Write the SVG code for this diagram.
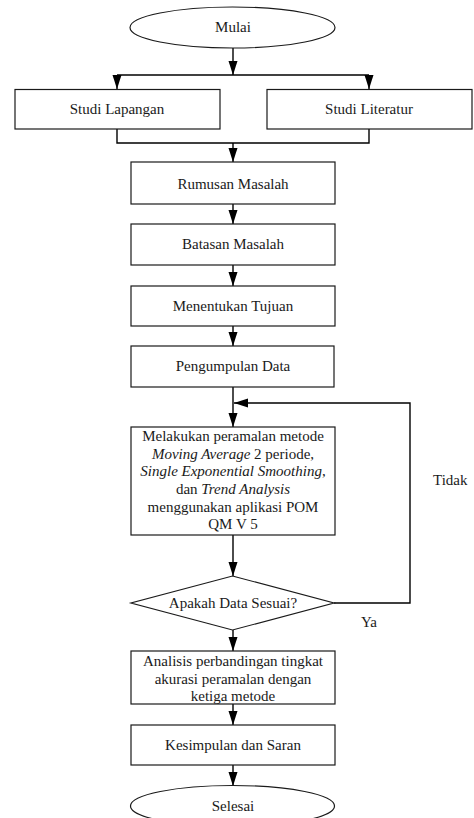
<svg xmlns="http://www.w3.org/2000/svg" width="474" height="818" viewBox="0 0 474 818">
<style>
.s{fill:#fff;stroke:#1a1a1a;stroke-width:1.2}
.c{fill:none;stroke:#000;stroke-width:1.4}
.t{font-family:"Liberation Serif","Times New Roman",serif;font-size:15px;fill:#1a1a1a;text-anchor:middle}
.l{font-family:"Liberation Serif","Times New Roman",serif;font-size:15px;fill:#1a1a1a}
.i{font-style:italic}
</style>
<defs>
<marker id="a" markerUnits="userSpaceOnUse" markerWidth="14" markerHeight="10" viewBox="0 0 14 10" refX="14" refY="5" orient="auto">
<path d="M0,0.5 L14,5 L0,9.5 z" fill="#000"/>
</marker>
</defs>
<g id="connectors">
<line class="c" x1="233" y1="48" x2="233" y2="75" marker-end="url(#a)"/>
<line class="c" x1="117" y1="75" x2="369" y2="75"/>
<line class="c" x1="117" y1="75" x2="117" y2="89" marker-end="url(#a)"/>
<line class="c" x1="369" y1="75" x2="369" y2="89" marker-end="url(#a)"/>
<polyline class="c" points="117,129 117,143 369,143 369,129"/>
<line class="c" x1="233" y1="143" x2="233" y2="162" marker-end="url(#a)"/>
<line class="c" x1="233" y1="204" x2="233" y2="224" marker-end="url(#a)"/>
<line class="c" x1="233" y1="265" x2="233" y2="286" marker-end="url(#a)"/>
<line class="c" x1="233" y1="326" x2="233" y2="346" marker-end="url(#a)"/>
<line class="c" x1="233" y1="387" x2="233" y2="427" marker-end="url(#a)"/>
<polyline class="c" points="334,603 410,603 410,403 234,403" marker-end="url(#a)"/>
<line class="c" x1="233" y1="535" x2="233" y2="576" marker-end="url(#a)"/>
<line class="c" x1="233" y1="630" x2="233" y2="651" marker-end="url(#a)"/>
<line class="c" x1="233" y1="704" x2="233" y2="725" marker-end="url(#a)"/>
<line class="c" x1="233" y1="765" x2="233" y2="786" marker-end="url(#a)"/>
<text class="l" x="433" y="485">Tidak</text>
<text class="l" x="361" y="627">Ya</text>
</g>
<g id="mulai">
<ellipse class="s" cx="232.5" cy="27.5" rx="102.5" ry="20.5"/>
<text class="t" x="233" y="32">Mulai</text>
</g>
<g id="studi-lapangan">
<rect class="s" x="15" y="89.5" width="205" height="39.5"/>
<text class="t" x="117" y="114">Studi Lapangan</text>
</g>
<g id="studi-literatur">
<rect class="s" x="267" y="89.5" width="205" height="39.5"/>
<text class="t" x="369" y="114">Studi Literatur</text>
</g>
<g id="rumusan">
<rect class="s" x="131" y="162" width="204" height="42"/>
<text class="t" x="233" y="189">Rumusan Masalah</text>
</g>
<g id="batasan">
<rect class="s" x="131" y="224" width="204" height="41"/>
<text class="t" x="233" y="249">Batasan Masalah</text>
</g>
<g id="tujuan">
<rect class="s" x="131" y="286" width="204" height="40"/>
<text class="t" x="233" y="311">Menentukan Tujuan</text>
</g>
<g id="pengumpulan">
<rect class="s" x="131" y="346" width="203" height="41"/>
<text class="t" x="233" y="371">Pengumpulan Data</text>
</g>
<g id="peramalan">
<rect class="s" x="131" y="427" width="204" height="108"/>
<text class="t" x="233" y="441">Melakukan peramalan metode</text>
<text class="t" x="233" y="458.5"><tspan class="i">Moving Average</tspan> 2 periode,</text>
<text class="t" x="233" y="476"><tspan class="i">Single Exponential Smoothing</tspan>,</text>
<text class="t" x="233" y="494"><tspan>dan </tspan><tspan class="i">Trend Analysis</tspan></text>
<text class="t" x="233" y="511.5">menggunakan aplikasi POM</text>
<text class="t" x="233" y="529">QM V 5</text>
</g>
<g id="keputusan">
<polygon class="s" points="232.5,576 334,603 232.5,630 131,603"/>
<text class="t" x="233" y="608">Apakah Data Sesuai?</text>
</g>
<g id="analisis">
<rect class="s" x="131" y="651" width="204" height="53"/>
<text class="t" x="233" y="666">Analisis perbandingan tingkat</text>
<text class="t" x="233" y="684">akurasi peramalan dengan</text>
<text class="t" x="233" y="701">ketiga metode</text>
</g>
<g id="kesimpulan">
<rect class="s" x="131" y="725" width="204" height="40"/>
<text class="t" x="233" y="750">Kesimpulan dan Saran</text>
</g>
<g id="selesai">
<ellipse class="s" cx="232.5" cy="806" rx="102" ry="20.5"/>
<text class="t" x="233" y="810.5">Selesai</text>
</g>
</svg>
